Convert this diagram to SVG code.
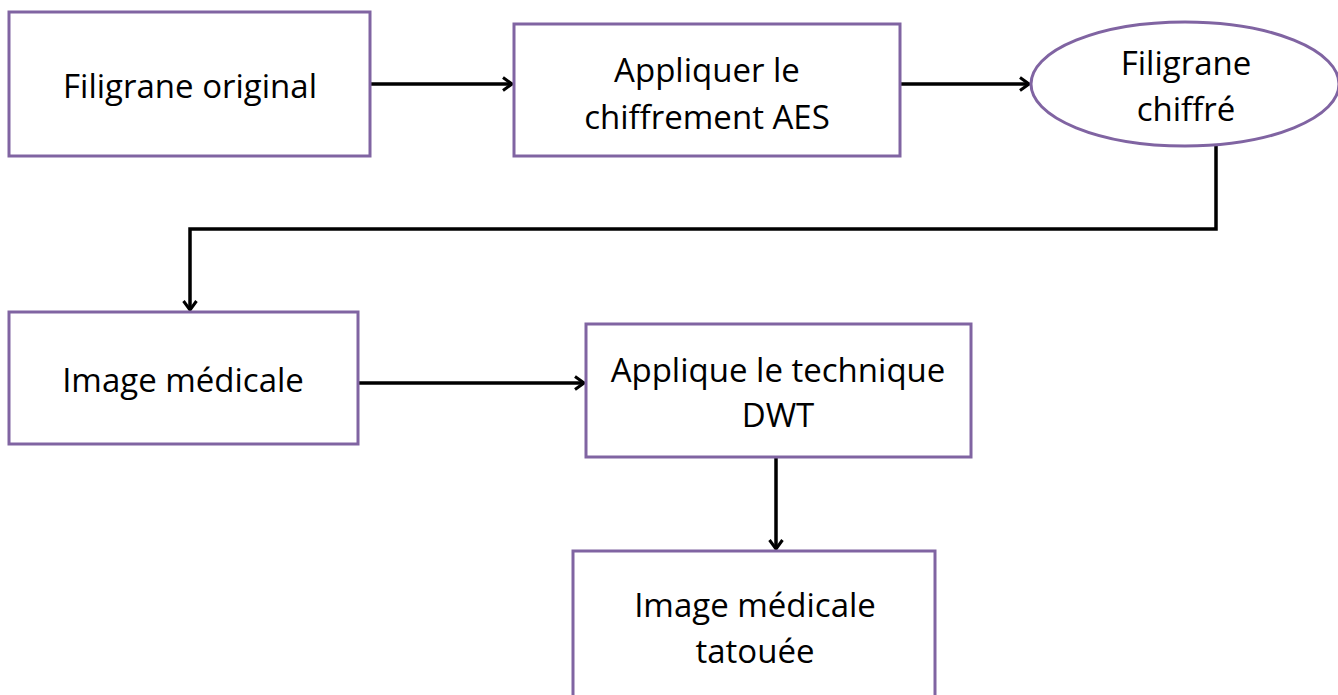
<svg xmlns="http://www.w3.org/2000/svg" width="1338" height="695" viewBox="0 0 1338 695">
<defs>
<style>
.n{fill:#fff;stroke:#8064a2;stroke-width:3}
.t{font-family:"Open Sans","Liberation Sans",sans-serif;font-size:33px;fill:#000;text-anchor:middle;dominant-baseline:central}
.c{fill:none;stroke:#000;stroke-width:3.5;marker-end:url(#ah)}
</style>
<marker id="ah" viewBox="0 0 16 16" refX="14" refY="8" markerWidth="16" markerHeight="16" markerUnits="userSpaceOnUse" orient="auto">
<path d="M5,1.5 L14,8 L5,14.5" fill="none" stroke="#000" stroke-width="3"/>
</marker>
</defs>
<rect width="1338" height="695" fill="#fff"/>
<g id="connectors">
<line class="c" x1="371" y1="84" x2="512" y2="84"/>
<line class="c" x1="901" y1="84" x2="1029" y2="84"/>
<polyline class="c" points="1216,146 1216,229 190,229 190,310"/>
<line class="c" x1="359" y1="383" x2="584" y2="383"/>
<line class="c" x1="776" y1="458" x2="776" y2="549"/>
</g>
<g id="n1"><rect class="n" x="9" y="12" width="361" height="144"/><text class="t" x="190" y="85">Filigrane original</text></g>
<g id="n2"><rect class="n" x="514" y="24" width="386" height="132"/><text class="t" x="707" y="69">Appliquer le</text><text class="t" x="707" y="116">chiffrement AES</text></g>
<g id="n3"><ellipse class="n" cx="1185" cy="84" rx="154" ry="62"/><text class="t" x="1186" y="62">Filigrane</text><text class="t" x="1186" y="108">chiffré</text></g>
<g id="n4"><rect class="n" x="9" y="312" width="349" height="132"/><text class="t" x="183" y="379">Image médicale</text></g>
<g id="n5"><rect class="n" x="586" y="324" width="385" height="133"/><text class="t" x="778" y="369">Applique le technique</text><text class="t" x="778" y="414">DWT</text></g>
<g id="n6"><rect class="n" x="573" y="551" width="362" height="160"/><text class="t" x="755" y="604">Image médicale</text><text class="t" x="755" y="650">tatouée</text></g>
</svg>
